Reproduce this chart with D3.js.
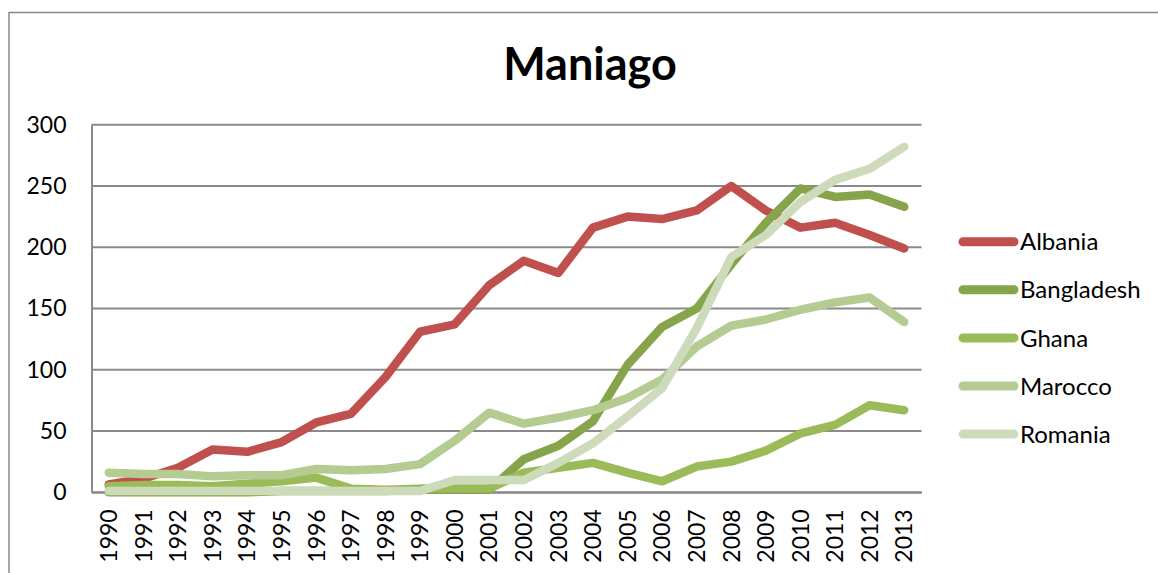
<!DOCTYPE html>
<html>
<head>
<meta charset="utf-8">
<script src="https://cdn.jsdelivr.net/npm/d3@7"></script>
<style>
  html, body { margin: 0; padding: 0; background: #fff; }
  svg { display: block; }
  text { font-family: Lato, "Open Sans", sans-serif; fill: #000; }
</style>
</head>
<body>
<svg id="chart" width="1158" height="573"></svg>
<script>
const years = ["1990","1991","1992","1993","1994","1995","1996","1997","1998","1999","2000","2001","2002","2003","2004","2005","2006","2007","2008","2009","2010","2011","2012","2013"];
const albania    = [6.5, 11, 20, 35, 33, 41, 57, 64, 94, 131, 137, 169, 189, 179, 216, 225, 223, 230, 250, 230, 216, 220, 210, 199];
const bangladesh = [0, 0, 0, 0, 0, 1, 1, 1, 1, 2, 2, 2, 27, 38, 58, 104, 135, 150, 186, 220, 248, 241, 243, 233];
const ghana      = [5, 6, 6, 5, 7, 9, 12, 3, 2, 3, 3, 3, 16, 20, 24, 16, 9, 21, 25, 34, 48, 55, 71, 67];
const marocco    = [16, 15, 15, 13, 14, 14, 19, 18, 19, 23, 42, 65, 56, 61, 67, 77, 92, 119, 136, 141, 149, 155, 159, 139];
const romania    = [1, 1, 1, 1, 1, 1, 1, 1, 1, 1, 10, 10, 10, 24, 40, 62, 85, 134, 192, 210, 237, 255, 264, 282];
const seriesNames = ["Albania", "Bangladesh", "Ghana", "Marocco", "Romania"];
const seriesColors = ["#C0504D", "#86A44A", "#9BBB59", "#B4CB92", "#CDDBBA"];
const yTicks = [0, 50, 100, 150, 200, 250, 300];
const titleText = "Maniago";

const seriesValues = [albania, bangladesh, ghana, marocco, romania];

const svg = d3.select("#chart");
const plot = { left: 91.5, right: 921.5, top: 124.7, bottom: 492.3 };

// outer chart border
svg.append("rect")
  .attr("x", 9).attr("y", 12.5)
  .attr("width", 1158).attr("height", 600)
  .attr("fill", "none").attr("stroke", "#898989").attr("stroke-width", 1.5);

const x = d3.scaleBand().domain(years).range([plot.left, plot.right]).padding(0);
const y = d3.scaleLinear().domain([0, 300]).range([plot.bottom, plot.top]);

// gridlines
svg.append("g").selectAll("line").data(yTicks).join("line")
  .attr("x1", plot.left).attr("x2", plot.right)
  .attr("y1", d => y(d)).attr("y2", d => y(d))
  .attr("stroke", "#8a8a8a").attr("stroke-width", 2);

// y axis
const yAxis = svg.append("g").attr("transform", `translate(${plot.left},0)`)
  .call(d3.axisLeft(y).tickValues(yTicks).tickSize(0).tickPadding(25));
yAxis.select(".domain").attr("stroke", "#8a8a8a").attr("stroke-width", 2);
yAxis.selectAll("text").style("font-size", "23px").style("font-family", "Lato, sans-serif").attr("fill", "#000");

// x axis
const xAxis = svg.append("g").attr("transform", `translate(0,${plot.bottom})`)
  .call(d3.axisBottom(x).tickSize(0));
xAxis.select(".domain").attr("stroke", "#8a8a8a").attr("stroke-width", 2);
xAxis.selectAll("text")
  .style("font-size", "23px").style("font-family", "Lato, sans-serif").attr("fill", "#000")
  .attr("transform", "rotate(-90)")
  .attr("text-anchor", "end")
  .attr("x", -17).attr("y", 0).attr("dy", "0.36em");

// lines
const line = d3.line()
  .x((d, i) => x(years[i]) + x.bandwidth() / 2)
  .y(d => y(d));

svg.append("g").selectAll("path").data(seriesValues).join("path")
  .attr("d", d => line(d))
  .attr("fill", "none")
  .attr("stroke", (d, i) => seriesColors[i])
  .attr("stroke-width", 8.5)
  .attr("stroke-linecap", "round")
  .attr("stroke-linejoin", "round");

// title
svg.append("text")
  .attr("x", 590).attr("y", 80)
  .attr("text-anchor", "middle")
  .style("font-size", "45px").style("font-weight", "bold")
  .text(titleText);

// legend
const legend = svg.append("g");
const legItems = legend.selectAll("g").data(seriesNames).join("g")
  .attr("transform", (d, i) => `translate(0,${241.7 + i * 48.1})`);
legItems.append("line")
  .attr("x1", 963).attr("x2", 1014).attr("y1", 0).attr("y2", 0)
  .attr("stroke", (d, i) => seriesColors[i])
  .attr("stroke-width", 9).attr("stroke-linecap", "round");
legItems.append("text")
  .attr("x", 1020).attr("y", 0).attr("dy", "0.36em")
  .style("font-size", "24px")
  .text(d => d);
</script>
</body>
</html>
